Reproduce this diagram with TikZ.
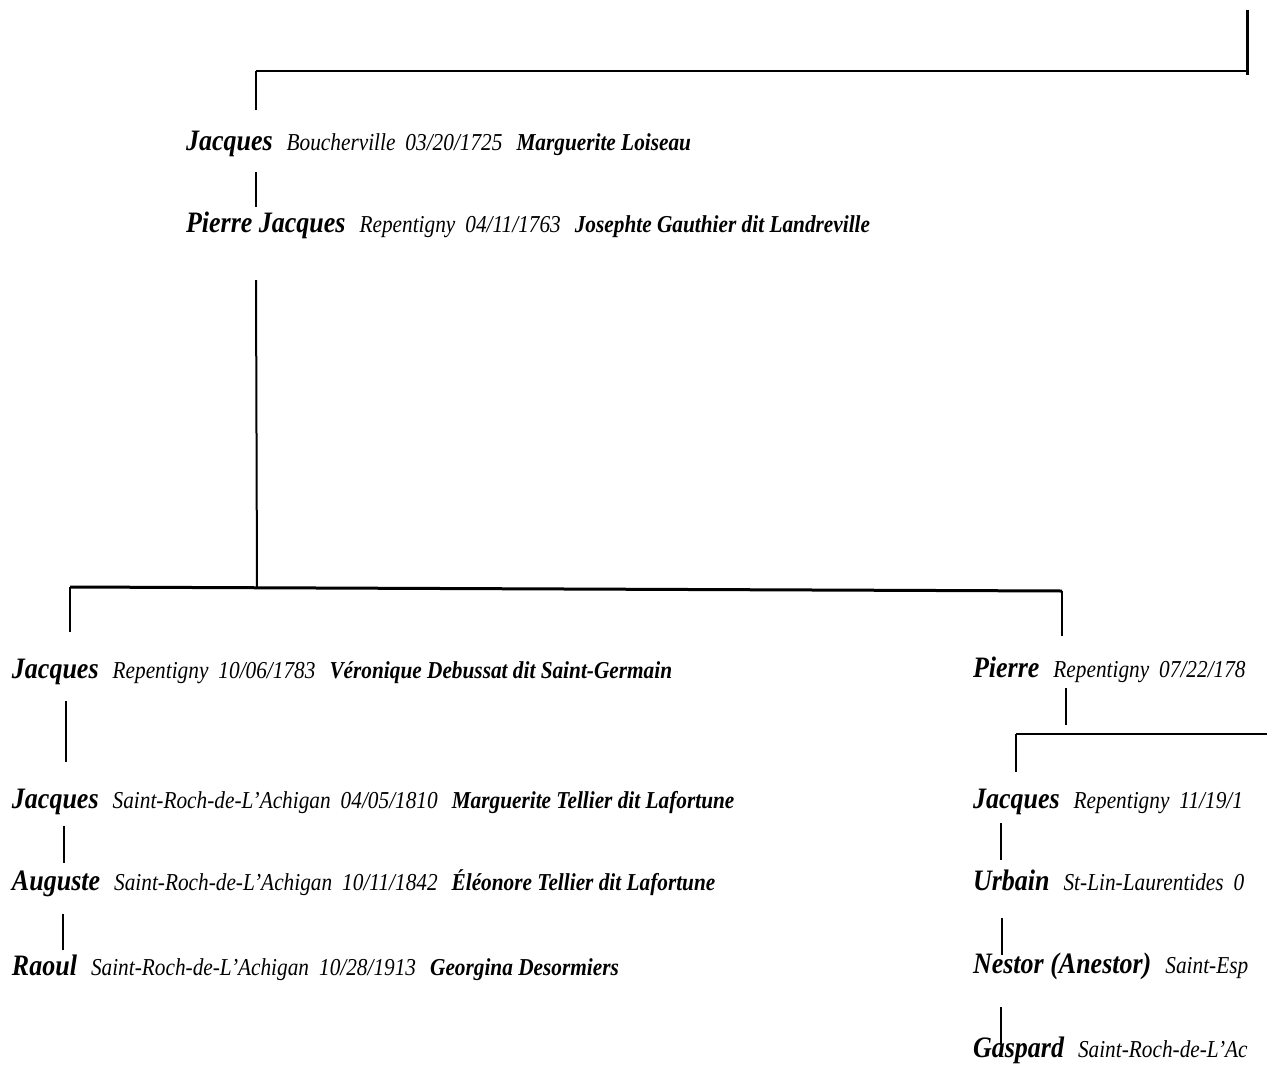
\documentclass[tikz,border=0pt]{standalone}
\usepackage{graphicx}
\usepackage{fontspec}
\setmainfont{Liberation Serif}
\newcommand{\nmx}[1]{{\fontsize{26}{30}\selectfont\bfseries\itshape #1}}
\newcommand{\plx}[1]{{\fontsize{21.3}{25}\selectfont\itshape #1}}
\newcommand{\spx}[1]{{\fontsize{21.3}{25}\selectfont\bfseries\itshape #1}}
\newcommand{\gpx}{\hspace{14pt}}
\newcommand{\dgx}{\hspace{10pt}}
\newcommand{\tallx}[1]{\scalebox{1}[1.14]{#1}}
\begin{document}
\begin{tikzpicture}[x=1pt,y=-1pt,
  person/.style={anchor=base west,inner sep=0pt,outer sep=0pt},
  link/.style={line width=2pt,line cap=butt},
  bar/.style={line width=3pt,line cap=butt}]
\useasboundingbox (0,0) rectangle (1267,1066);
\begin{scope}
\clip (0,0) rectangle (1250,1066);
% rows
\node[person] (r1) at (186,150) {\tallx{\nmx{Jacques}\gpx\plx{Boucherville\dgx 03/20/1725}\gpx\spx{Marguerite Loiseau}}};
\node[person] (r2) at (186,232) {\tallx{\nmx{Pierre Jacques}\gpx\plx{Repentigny\dgx 04/11/1763}\gpx\spx{Josephte Gauthier dit Landreville}}};
\node[person] (l1) at (12,678) {\tallx{\nmx{Jacques}\gpx\plx{Repentigny\dgx 10/06/1783}\gpx\spx{Véronique Debussat dit Saint-Germain}}};
\node[person] (l2) at (12,808) {\tallx{\nmx{Jacques}\gpx\plx{Saint-Roch-de-L’Achigan\dgx 04/05/1810}\gpx\spx{Marguerite Tellier dit Lafortune}}};
\node[person] (l3) at (12,890) {\tallx{\nmx{Auguste}\gpx\plx{Saint-Roch-de-L’Achigan\dgx 10/11/1842}\gpx\spx{Éléonore Tellier dit Lafortune}}};
\node[person] (l4) at (12,975) {\tallx{\nmx{Raoul}\gpx\plx{Saint-Roch-de-L’Achigan\dgx 10/28/1913}\gpx\spx{Georgina Desormiers}}};
\node[person] (p1) at (973,677) {\tallx{\nmx{Pierre}\gpx\plx{Repentigny\dgx 07/22/178}}};
\node[person] (p2) at (973,808) {\tallx{\nmx{Jacques}\gpx\plx{Repentigny\dgx 11/19/1}}};
\node[person] (p3) at (973,890) {\tallx{\nmx{Urbain}\gpx\plx{St-Lin-Laurentides\dgx 0}}};
\node[person] (p4) at (973,973) {\tallx{\nmx{Nestor (Anestor)}\gpx\plx{Saint-Esp}}};
\node[person] (p5) at (973,1057) {\tallx{\nmx{Gaspard}\gpx\plx{Saint-Roch-de-L’Ac}}};
\end{scope}
% junction coordinates
\coordinate (topR) at (1247,10);
\coordinate (topRb) at (1247,75);
\coordinate (topL) at (256,71);
\coordinate (topE) at (1247,71);
\coordinate (topD) at (256,110);
\coordinate (a1) at (256,172);
\coordinate (a2) at (256,207);
\coordinate (b1) at (256,280);
\coordinate (b2) at (257,588);
\coordinate (hL) at (70,587);
\coordinate (hR) at (1062,591);
\coordinate (hLd) at (70,632);
\coordinate (hRd) at (1062,636);
\coordinate (c1) at (66,701);
\coordinate (c2) at (66,762);
\coordinate (d1) at (64,826);
\coordinate (d2) at (64,863);
\coordinate (e1) at (63,914);
\coordinate (e2) at (63,950);
\coordinate (f1) at (1066,688);
\coordinate (f2) at (1066,725);
\coordinate (gL) at (1016,734);
\coordinate (gR) at (1267,734);
\coordinate (gD) at (1016,772);
\coordinate (k1) at (1001,823);
\coordinate (k2) at (1001,860);
\coordinate (m1) at (1002,918);
\coordinate (m2) at (1002,955);
\coordinate (n1) at (1001,1007);
\coordinate (n2) at (1001,1045);
% connectors
\draw[bar] (topR) -- (topRb);
\draw[link] (topL) -- (topE);
\draw[link] (topL) -- (topD);
\draw[link] (a1) -- (a2);
\draw[link] (b1) -- (b2);
\draw[bar] (hL) -- (hR);
\draw[link] (hL) -- (hLd);
\draw[link] (hR) -- (hRd);
\draw[link] (c1) -- (c2);
\draw[link] (d1) -- (d2);
\draw[link] (e1) -- (e2);
\draw[link] (f1) -- (f2);
\draw[link] (gL) -- (gR);
\draw[link] (gL) -- (gD);
\draw[link] (k1) -- (k2);
\draw[link] (m1) -- (m2);
\draw[link] (n1) -- (n2);
\end{tikzpicture}
\end{document}
